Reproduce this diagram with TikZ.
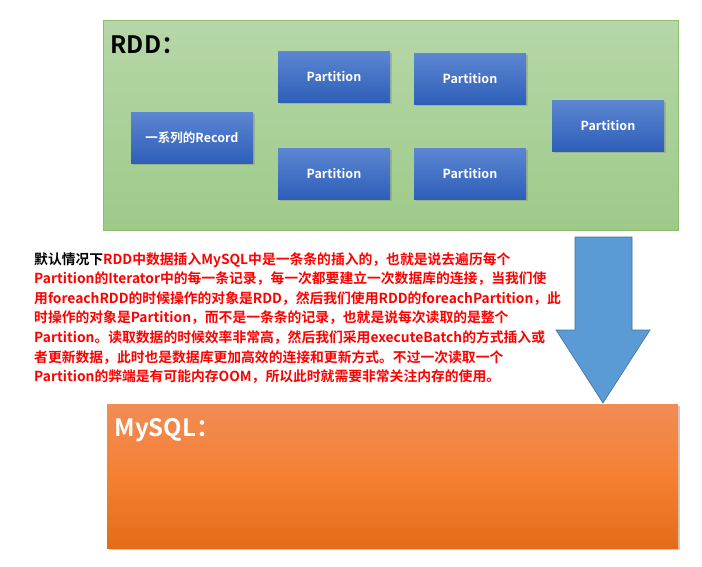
\documentclass[tikz,border=0pt]{standalone}
\usepackage{fontspec}
\setmainfont{Noto Sans CJK SC}[BoldFont={Noto Sans CJK SC Bold}]
\usepackage{tikz}
\usetikzlibrary{shadows}
\definecolor{rddtop}{RGB}{182,215,168}
\definecolor{rddbot}{RGB}{158,202,137}
\definecolor{rddline}{RGB}{140,190,110}
\definecolor{parttop}{RGB}{92,134,210}
\definecolor{partbot}{RGB}{46,94,184}
\definecolor{sqltop}{RGB}{241,140,85}
\definecolor{sqlmid}{RGB}{245,128,50}
\definecolor{sqlbot}{RGB}{228,108,22}
\definecolor{arrowfill}{RGB}{91,155,213}
\definecolor{arrowline}{RGB}{65,113,156}

\begin{document}
\begin{tikzpicture}[x=1pt,y=-1pt,font=\bfseries]
 \tikzstyle{part}=[draw=none,top color=parttop,bottom color=partbot,text=white,
   minimum width=112pt,minimum height=51pt,inner sep=0pt,
   drop shadow={shadow xshift=1.5pt,shadow yshift=-1.5pt,opacity=0.35},
   font=\fontsize{12.5}{14}\selectfont\bfseries]
 \useasboundingbox (0,0) rectangle (702,567);

   % RDD
   \node[draw=rddline,top color=rddtop,bottom color=rddbot,minimum width=575pt,
     minimum height=210pt,anchor=north west,inner sep=0pt] (rdd) at (103,20) {};
   \node[anchor=west,font=\fontsize{24}{27}\selectfont\bfseries] (rddlabel) at (107,45) {RDD：};
   \node[part,minimum width=122pt] (record) at (192,138) {一系列的Record};
   \node[part] (p1) at (334,77) {Partition};
   \node[part] (p2) at (470,79) {Partition};
   \node[part] (p3) at (608,126) {Partition};
   \node[part] (p4) at (334,174) {Partition};
   \node[part] (p5) at (470,174) {Partition};

   % MySQL
   \node[draw=none,drop shadow={shadow xshift=1.5pt,shadow yshift=-2pt,opacity=0.4},
     top color=sqltop,bottom color=sqlbot,middle color=sqlmid,minimum width=571pt,
     minimum height=144pt,anchor=north west,inner sep=0pt] (mysql) at (107,404) {};
   \node[anchor=west,text=white,font=\fontsize{24}{27}\selectfont\bfseries] (mysqllabel) at (111,430) {MySQL：};

   % arrow
   \filldraw[fill=arrowfill,draw=arrowline,line width=0.6pt]
     (575,237) -- (632,237) -- (632,330) -- (650,330) -- (603,403)
     -- (556,330) -- (575,330) -- cycle;

   % text
   \node[anchor=north west,align=left,text=red,inner sep=0pt,
     font=\fontsize{13.8}{19.6}\selectfont\bfseries] (note) at (34,252)
   {\textcolor{black}{默认情况下}RDD中数据插入MySQL中是一条条的插入的，也就是说去遍历每个\\
    Partition的Iterator中的每一条记录，每一次都要建立一次数据库的连接，当我们使\\
    用foreachRDD的时候操作的对象是RDD，然后我们使用RDD的foreachPartition，此\\
    时操作的对象是Partition，而不是一条条的记录，也就是说每次读取的是整个\\
    Partition。读取数据的时候效率非常高，然后我们采用executeBatch的方式插入或\\
    者更新数据，此时也是数据库更加高效的连接和更新方式。不过一次读取一个\\
    Partition的弊端是有可能内存OOM，所以此时就需要非常关注内存的使用。};

\end{tikzpicture}
\end{document}
